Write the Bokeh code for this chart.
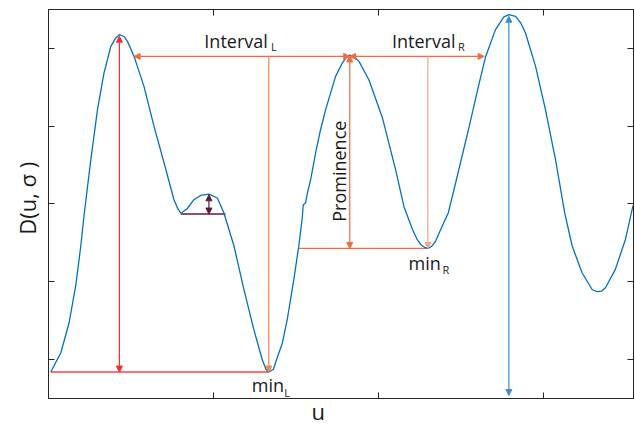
import numpy as np
from bokeh.plotting import figure
from bokeh.models import Arrow, NormalHead, Label, LinearAxis, FixedTicker, Range1d
from bokeh.embed import file_html
from bokeh.resources import INLINE

# ---- data (arbitrary units) ----
u = [0.014, 0.075, 0.125, 0.166, 0.196, 0.216, 0.256, 0.297, 0.337, 0.378,
     0.407, 0.430, 0.457, 0.479, 0.519, 0.579, 0.640, 0.701, 0.761, 0.783,
     0.802, 0.841, 0.882, 0.923, 0.973, 1.024, 1.064, 1.125, 1.185, 1.245,
     1.296, 1.319, 1.336, 1.364, 1.387, 1.419, 1.448, 1.488, 1.518, 1.539,
     1.545, 1.559, 1.570, 1.590, 1.620, 1.650, 1.681, 1.741, 1.782, 1.806,
     1.827, 1.856, 1.883, 1.943, 2.025, 2.105, 2.156, 2.207, 2.235, 2.257,
     2.281, 2.301, 2.325, 2.348, 2.388, 2.425, 2.469, 2.550, 2.610, 2.651,
     2.711, 2.762, 2.792, 2.833, 2.865, 2.893, 2.954, 3.014, 3.075, 3.131,
     3.176, 3.236, 3.297, 3.327, 3.355, 3.378, 3.438, 3.499, 3.545]
D = [0.838, 1.086, 1.472, 1.961, 2.462, 2.861, 3.556, 4.212, 4.687, 5.026,
     5.131, 5.176, 5.153, 5.090, 4.897, 4.511, 3.997, 3.526, 3.054, 2.945,
     2.880, 2.938, 3.054, 3.109, 3.127, 3.076, 2.883, 2.459, 1.900, 1.386,
     1.000, 0.874, 0.838, 0.874, 1.022, 1.215, 1.514, 2.029, 2.459, 2.819,
     2.990, 3.012, 3.140, 3.311, 3.655, 3.954, 4.212, 4.640, 4.812, 4.883,
     4.913, 4.889, 4.833, 4.597, 4.109, 3.440, 2.964, 2.675, 2.546, 2.479,
     2.442, 2.428, 2.456, 2.523, 2.716, 2.887, 3.269, 3.980, 4.533, 4.893,
     5.241, 5.404, 5.433, 5.412, 5.324, 5.198, 4.768, 4.212, 3.569, 2.883,
     2.459, 2.115, 1.900, 1.871, 1.880, 1.922, 2.158, 2.543, 2.977]

x_ticks = [1, 2, 3]
y_ticks = [1, 2, 3, 4, 5]

# key features
peak1 = (0.430, 5.176)
min_l = (1.336, 0.838)
peak2 = (1.827, 4.913)
min_r = (2.301, 2.428)
peak3 = (2.792, 5.433)
small_peak = (0.973, 3.127)
shoulder = (0.802, 2.870)
shoulder_end = 1.073
interval_y = 4.897
interval_l_end = 0.519
interval_r_end = 2.642
prom_line_start = 1.518
curve_start = 0.014
blue_arrow_bottom = 0.537

FONT = "Open Sans"
NB = "\u00a0"

p = figure(width=635, height=428, x_range=Range1d(0.0, 3.548), y_range=Range1d(0.498, 5.50),
           output_backend="svg", toolbar_location=None,
           x_axis_location=None, y_axis_location=None,
           min_border_left=48, min_border_right=2, min_border_top=9, min_border_bottom=29)
p.grid.visible = False
p.outline_line_color = "#262626"
p.background_fill_color = "white"
p.border_fill_color = "white"

axes = {}
for side, ticks in [("left", y_ticks), ("right", y_ticks), ("below", x_ticks), ("above", x_ticks)]:
    ax = LinearAxis(ticker=FixedTicker(ticks=ticks))
    ax.major_tick_in = 6
    ax.major_tick_out = 0
    ax.minor_tick_in = 0
    ax.minor_tick_out = 0
    ax.major_label_text_font_size = "1px"
    ax.major_label_text_color = None
    ax.major_label_standoff = 0
    ax.axis_line_color = "#262626"
    ax.major_tick_line_color = "#262626"
    ax.axis_label_text_font = FONT
    ax.axis_label_text_font_size = "22px"
    ax.axis_label_text_font_style = "normal"
    ax.axis_label_text_color = "#1a1a1a"
    ax.axis_label_standoff = 0
    p.add_layout(ax, side)
    axes[side] = ax

axes["below"].axis_label = "u" + NB * 8
axes["below"].axis_label_standoff = -3
axes["left"].axis_label = NB * 2 + "D(u, \u03c3 )"
axes["left"].axis_label_standoff = 7


def arrow(x0, y0, x1, y1, color, start=True, end=True, width=1.2):
    kw = dict(x_start=x0, y_start=y0, x_end=x1, y_end=y1, line_color=color, line_width=width)
    kw["start"] = NormalHead(size=6, fill_color=color, line_color=color) if start else None
    kw["end"] = NormalHead(size=6, fill_color=color, line_color=color) if end else None
    p.add_layout(Arrow(**kw))


# annotation lines
p.line([curve_start, min_l[0]], [min_l[1], min_l[1]], line_color="#FF7070", line_width=2)
p.line([prom_line_start, min_r[0]], [min_r[1], min_r[1]], line_color="#F26B3F", line_width=1.2)
p.line([shoulder[0], shoulder_end], [shoulder[1], shoulder[1]], line_color="#5E1B3E", line_width=1.5)

arrow(peak1[0], peak1[1] - 0.02, peak1[0], min_l[1], "#FF2A2A")
arrow(peak2[0], interval_y, interval_l_end, interval_y, "#F26B3F")
arrow(peak2[0], interval_y, interval_r_end, interval_y, "#F26B3F")
arrow(min_l[0], interval_y, min_l[0], min_l[1], "#F48650", start=False)
arrow(min_r[0], interval_y, min_r[0], min_r[1], "#F6A58C", start=False)
arrow(peak2[0], peak2[1] - 0.01, peak2[0], min_r[1], "#F26B3F")
arrow(small_peak[0], small_peak[1] - 0.01, small_peak[0], shoulder[1], "#5E1B3E")
arrow(peak3[0], peak3[1] - 0.02, peak3[0], blue_arrow_bottom, "#3D8FD4")

p.line(u, D, line_color="#0072BD", line_width=1.3)


def label(x, y, text, size, angle=0.0, align="left", baseline="alphabetic"):
    p.add_layout(Label(x=x, y=y, text=text, text_font=FONT, text_font_size=size,
                       text_color="#1a1a1a", angle=angle, text_align=align,
                       text_baseline=baseline))


label(0.945, 5.095, "Interval", "18px")
label(1.350, 5.021, "L", "11px")
label(2.083, 5.095, "Interval", "18px")
label(2.483, 5.021, "R", "11px")
label(1.233, 0.670, "min", "18px")
label(1.430, 0.576, "L", "11px")
label(2.184, 2.239, "min", "18px")
label(2.390, 2.153, "R", "11px")
label(1.762, 3.421, "Prominence", "18px", angle=np.pi / 2, align="center", baseline="middle")

open("out.html", "w").write(file_html(p, INLINE))
